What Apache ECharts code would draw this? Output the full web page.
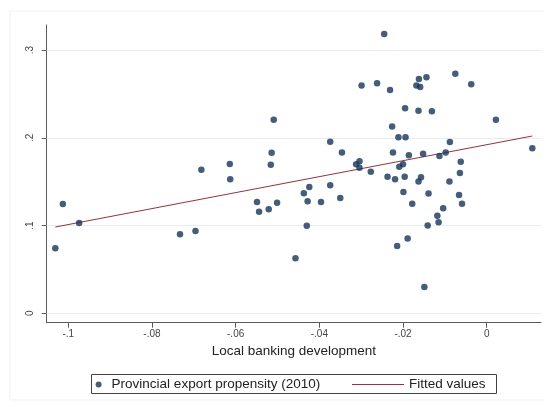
<!DOCTYPE html>
<html>
<head>
<meta charset="utf-8">
<script src="https://cdn.jsdelivr.net/npm/echarts@6/dist/echarts.min.js"></script>
<style>
  html, body { margin: 0; padding: 0; background: #ffffff; }
  #chart { width: 544px; height: 403px; }
</style>
</head>
<body>
<div id="chart"></div>
<script>
// Local banking development (x) vs provincial export propensity in 2010 (y)
var bankingDev = [
  -0.1031, -0.1013, -0.0974, -0.0733, -0.0696, -0.0682, -0.0614, -0.0613, -0.0549, -0.0544,
  -0.0521, -0.0501, -0.0514, -0.0516, -0.0509, -0.0437, -0.0424, -0.0428, -0.0430, -0.0457,
  -0.0396, -0.0374, -0.0374, -0.0350, -0.0346, -0.0299, -0.0262, -0.0312, -0.0304, -0.0304,
  -0.0277, -0.0245, -0.0231, -0.0168, -0.0162, -0.0144, -0.0159, -0.0075, -0.0037, -0.0195,
  -0.0163, -0.0131, -0.0226, 0.0022, -0.0211, -0.0194, -0.0088, -0.0224, -0.0186, -0.0152,
  -0.0113, -0.0098, 0.0109, -0.0209, -0.0200, -0.0062, -0.0064, -0.0237, -0.0219, -0.0196,
  -0.0163, -0.0157, -0.0089, -0.0199, -0.0139, -0.0066, -0.0059, -0.0178, -0.0104, -0.0118,
  -0.0115, -0.0141, -0.0189, -0.0214, -0.0149
];
var exportPropensity = [
  0.0741, 0.1245, 0.1029, 0.0900, 0.0938, 0.1635, 0.1701, 0.1527, 0.1268, 0.1156,
  0.1185, 0.1260, 0.1829, 0.1693, 0.2206, 0.1367, 0.1439, 0.1277, 0.0998, 0.0627,
  0.1268, 0.1955, 0.1460, 0.1314, 0.1832, 0.2595, 0.2621, 0.1698, 0.1732, 0.1659,
  0.1614, 0.3182, 0.2544, 0.2595, 0.2669, 0.2690, 0.2578, 0.2730, 0.2609, 0.2336,
  0.2308, 0.2303, 0.2128, 0.2206, 0.2005, 0.2005, 0.1952, 0.1832, 0.1800, 0.1818,
  0.1792, 0.1832, 0.1880, 0.1669, 0.1698, 0.1726, 0.1599, 0.1555, 0.1527, 0.1556,
  0.1502, 0.1550, 0.1502, 0.1381, 0.1365, 0.1347, 0.1249, 0.1249, 0.1197, 0.1111,
  0.1038, 0.1000, 0.0852, 0.0767, 0.0300
];

// Fitted regression line, evaluated at the ends of the data range
var fitX = [-0.1031, 0.0109];
var fitY = [0.0983, 0.2020];

// Axis ticks
var xTicks = [-0.1, -0.08, -0.06, -0.04, -0.02, 0];
var yTicks = [0, 0.1, 0.2, 0.3];

var seriesNames = ['Provincial export propensity (2010)', 'Fitted values'];
var xTitle = 'Local banking development';

// Stata-style number format: drop the leading zero
function fmt(v) {
  if (Math.abs(v) < 1e-9) return '0';
  var s = String(Math.round(v * 1000) / 1000);
  return s.replace(/^(-?)0\./, '$1.');
}

var points = bankingDev.map(function (x, i) { return [x, exportPropensity[i]]; });
var fitLine = fitX.map(function (x, i) { return [x, fitY[i]]; });

var FONT = '"Liberation Sans", Arial, sans-serif';
var NAVY = '#163556';
var MAROON = '#90353b';
var AXIS = '#5a5a5a';

var chart = echarts.init(document.getElementById('chart'), null, { renderer: 'canvas' });

var legendText = { fontFamily: FONT, fontSize: 13.5, color: '#222222', lineHeight: 15 };

chart.setOption({
  animation: false,
  backgroundColor: '#ffffff',
  textStyle: { fontFamily: FONT },
  grid: { left: 46.7, right: 3, top: 25, bottom: 80.3, containLabel: false },
  graphic: [
    {
      type: 'rect', silent: true, z: -10,
      shape: { x: 10, y: 11, width: 560, height: 389 },
      style: { fill: 'none', stroke: '#f1f1f1', lineWidth: 1 }
    },
    {
      type: 'rect', silent: true, z: 5,
      shape: { x: 91.5, y: 374.5, width: 405, height: 19 },
      style: { fill: '#ffffff', stroke: '#444444', lineWidth: 1 }
    }
  ],
  legend: [
    {
      data: [{ name: seriesNames[0], icon: 'circle', itemStyle: { color: NAVY } }],
      left: 95.6, top: 377,
      itemWidth: 16, itemHeight: 6,
      padding: 0, z: 10,
      textStyle: legendText
    },
    {
      data: [{ name: seriesNames[1], icon: 'rect', itemStyle: { color: MAROON } }],
      left: 352, top: 377,
      itemWidth: 52, itemHeight: 1.2,
      padding: 0, z: 10,
      textStyle: legendText
    }
  ],
  xAxis: {
    type: 'value',
    min: -0.10516, max: 0.01298,
    name: xTitle,
    nameLocation: 'middle',
    nameGap: 20,
    nameTextStyle: { fontFamily: FONT, fontSize: 13.5, color: '#222222' },
    axisLine: { onZero: false, lineStyle: { color: AXIS, width: 1 } },
    axisTick: { show: true, length: 5, customValues: xTicks, lineStyle: { color: AXIS } },
    axisLabel: {
      customValues: xTicks, margin: 7,
      fontFamily: FONT, fontSize: 10, color: '#444444',
      formatter: fmt
    },
    splitLine: { show: false }
  },
  yAxis: {
    type: 'value',
    min: -0.01071, max: 0.32847,
    axisLine: { show: true, onZero: false, lineStyle: { color: AXIS, width: 1 } },
    axisTick: { show: true, length: 5, customValues: yTicks, lineStyle: { color: AXIS } },
    axisLabel: {
      customValues: yTicks, margin: 11, rotate: 90,
      fontFamily: FONT, fontSize: 10, color: '#444444',
      formatter: fmt
    },
    splitLine: { show: false }
  },
  series: [
    {
      name: seriesNames[0],
      type: 'scatter',
      data: points,
      symbol: 'circle',
      symbolSize: 6.5,
      itemStyle: { color: NAVY },
      z: 3,
      markLine: {
        silent: true,
        symbol: 'none',
        label: { show: false },
        lineStyle: { color: '#e9ecee', width: 1, type: 'solid' },
        data: yTicks.map(function (v) { return { yAxis: v }; }),
        z: 1
      }
    },
    {
      name: seriesNames[1],
      type: 'line',
      data: fitLine,
      symbol: 'none',
      showSymbol: false,
      lineStyle: { color: MAROON, width: 1 },
      itemStyle: { color: MAROON },
      z: 2
    }
  ]
});
</script>
</body>
</html>
